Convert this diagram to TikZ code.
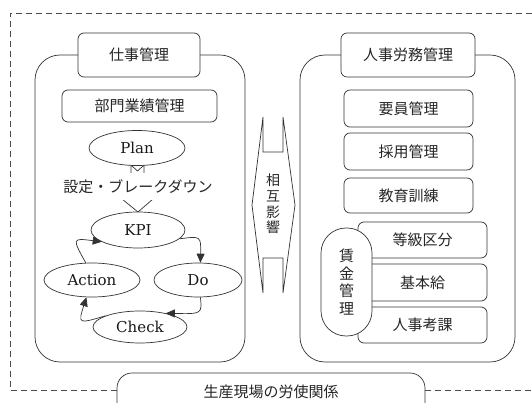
\documentclass[tikz,border=0pt]{standalone}
\usepackage{fontspec}
\setmainfont{DejaVu Serif}
\newfontfamily\jp{Noto Sans CJK JP}
\usetikzlibrary{arrows.meta,shapes.geometric}
\begin{document}
\begin{tikzpicture}[x=1pt,y=-1pt,
  ln/.style={draw=black!80, line width=0.7pt},
  outer/.style={draw=black!70, line width=0.7pt, dash pattern=on 6pt off 4pt},
  panel/.style={ln, rounded corners=25pt, inner sep=0pt},
  jpbox/.style={ln, fill=white, rounded corners=6pt, inner sep=0pt, text=black!85, font=\jp\fontsize{15}{18}\selectfont},
  jptext/.style={inner sep=0pt, text=black!85, font=\jp\fontsize{15}{18}\selectfont},
  phase/.style={ln, ellipse, fill=white, inner sep=0pt, text=black!90, font=\fontsize{15}{18}\selectfont},
  cyc/.style={draw=black!80, line width=0.7pt, -{Triangle[length=9pt,width=8pt]}},
]
\useasboundingbox (0,0) rectangle (532,403);

% outer panels
\node[panel, minimum width=210pt, minimum height=307pt] (workp) at (140,208.5) {};
\node[panel, minimum width=215pt, minimum height=307pt] (hrp) at (407.5,208.5) {};

% headers
\node[jpbox, minimum width=122pt, minimum height=44pt] (workh) at (139,55) {仕事管理};
\node[jpbox, minimum width=134pt, minimum height=44pt] (hrh) at (408,55) {人事労務管理};

% left content
\node[jpbox, minimum width=155pt, minimum height=32pt] (dept) at (139.5,106) {部門業績管理};

% block arrow Plan -> KPI
\coordinate (ta) at (131,165);
\coordinate (tb) at (144,165);
\draw[ln, fill=white] (ta) -- (137.5,171) -- (tb) -- (144,199) -- (153,199) -- (138,212) -- (122,199) -- (131,199) -- cycle;

\node[phase, minimum width=96pt, minimum height=35pt] (plan) at (137,148) {Plan};
\node[jptext, fill=white, minimum width=168pt, minimum height=27pt] (brk) at (138,186.5) {設定・ブレークダウン};

\node[phase, minimum width=94pt, minimum height=36pt] (kpi) at (138,230) {KPI};
\node[phase, minimum width=96pt, minimum height=34pt] (act) at (92,280) {Action};
\node[phase, minimum width=88pt, minimum height=34pt] (do) at (198,280) {Do};
\node[phase, minimum width=94pt, minimum height=32pt] (chk) at (140,327) {Check};

\draw[cyc] (kpi.-12) .. controls (201,236) .. (do.82);
\draw[cyc] (do.-82) .. controls (202,314) .. (chk.28);
\draw[cyc] (chk.162) .. controls (78,324) .. (act.-108);
\draw[cyc] (act.110) .. controls (72,238) .. (kpi.198);

% mutual influence arrow
\draw[ln] (263,117) -- (252,205) -- (263,293) -- (263,258) -- (283,258) -- (283,293)
  -- (295,205) -- (283,117) -- (283,152) -- (263,152) -- cycle;
\node[inner sep=0pt, align=center, text=black!85, font=\jp\fontsize{14}{15.7}\selectfont] (mutual) at (273,204) {相\\互\\影\\響};

% right content
\node[jpbox, minimum width=129pt, minimum height=37pt] (yoin) at (408.5,108.5) {要員管理};
\node[jpbox, minimum width=129pt, minimum height=37pt] (saiyo) at (408.5,151.5) {採用管理};
\node[jpbox, minimum width=129pt, minimum height=35pt] (kyoiku) at (408.5,195.5) {教育訓練};
\node[jpbox, minimum width=129pt, minimum height=36pt] (tokyu) at (422.5,240) {等級区分};
\node[jpbox, minimum width=129pt, minimum height=37pt] (kihon) at (422.5,282.5) {基本給};
\node[jpbox, minimum width=129pt, minimum height=36pt] (koka) at (422.5,325) {人事考課};
\node[ln, fill=white, rounded corners=25pt, inner sep=0pt, minimum width=51pt, minimum height=108pt,
  align=center, text=black!85, font=\jp\fontsize{15}{17.5}\selectfont] (chingin) at (346.5,282) {賃\\金\\管\\理};

% bottom relation
\node[ln, fill=white, rounded corners=15pt, inner sep=0pt, minimum width=308pt, minimum height=50pt] (rel) at (271,398) {};
\node[jptext] (reltext) at (271,392) {生産現場の労使関係};
\coordinate (dl) at (0,390);
\draw[outer] (rel.west |- dl) -- (10,390) -- (10,13) -- (545,13);
\draw[outer] (rel.east |- dl) -- (545,390);
\end{tikzpicture}
\end{document}
